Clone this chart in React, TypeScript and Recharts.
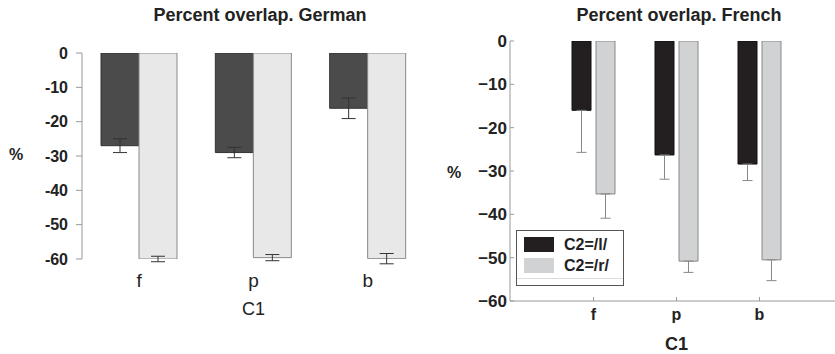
import React from "react";
import { BarChart, Bar, XAxis, YAxis, ErrorBar, Legend } from "recharts";

const categories = ["f", "p", "b"];
const yTicks = [0, -10, -20, -30, -40, -50, -60];

// German panel
const deL = [-27, -29, -16.1];
const deR = [-60, -59.6, -59.9];
const deLErr = [2, 1.5, 3];
const deRErr = [0.8, 0.9, 1.5];

// French panel (one-sided, downward error)
const frL = [-16, -26.3, -28.4];
const frR = [-35.3, -50.8, -50.5];
const frLErr = [9.7, 5.6, 3.8];
const frRErr = [5.6, 2.6, 4.8];

const FONT = "'Liberation Sans', Arial, sans-serif";

const germanData = categories.map((c, i) => ({
  c1: c,
  l: deL[i],
  r: deR[i],
  lErr: deLErr[i],
  rErr: deRErr[i],
}));

const frenchData = categories.map((c, i) => ({
  c1: c,
  l: frL[i],
  r: frR[i],
  lErr: [frLErr[i], 0],
  rErr: [frRErr[i], 0],
}));

const fmtMinus = (v: number) => (v < 0 ? "\u2212" + Math.abs(v) : String(v));

function GermanTick({ x, y, payload }: any) {
  return (
    <text x={x} y={y + 28} textAnchor="middle" fontSize={19} fill="#222" fontFamily={FONT}>
      {payload.value}
    </text>
  );
}

function FrenchXTick({ x, y, payload }: any) {
  return (
    <g>
      <line x1={x} x2={x} y1={y} y2={y - 4} stroke="#999" />
      <text x={x} y={y + 19} textAnchor="middle" fontSize={16} fontWeight="bold" fill="#222" fontFamily={FONT}>
        {payload.value}
      </text>
    </g>
  );
}

function FrenchTopTick({ x, y }: any) {
  return <line x1={x} x2={x} y1={y} y2={y + 4} stroke="#999" />;
}

function FrenchYTick({ x, y, payload }: any) {
  return (
    <g>
      <line x1={x} x2={x + 4} y1={y} y2={y} stroke="#999" />
      <text x={x - 3} y={y + 6} textAnchor="end" fontSize={17} fontWeight="bold" fill="#222" fontFamily={FONT}>
        {fmtMinus(payload.value)}
      </text>
    </g>
  );
}

function FrenchLegend({ payload }: any) {
  return (
    <div
      style={{
        width: 106,
        height: 48,
        border: "1px solid #555",
        background: "#fff",
        boxSizing: "content-box",
        paddingTop: 6,
        position: "relative",
        fontFamily: FONT,
      }}
    >
      {(payload || []).map((p: any) => (
        <div key={p.value} style={{ display: "flex", alignItems: "center", height: 15, marginBottom: 6, marginLeft: 7 }}>
          <div style={{ width: 30, height: 15, background: p.color }} />
          <span style={{ marginLeft: 10, fontSize: 16, fontWeight: "bold", color: "#222", lineHeight: "15px" }}>
            {p.value}
          </span>
        </div>
      ))}
      <div style={{ position: "absolute", left: 0, right: 0, top: 47, height: 1, background: "#ddd" }} />
    </div>
  );
}

export default function App() {
  return (
    <div
      style={{
        position: "fixed",
        left: 0,
        top: 0,
        width: 835,
        height: 354,
        overflow: "hidden",
        background: "#fff",
        fontFamily: FONT,
      }}
    >
      <div style={{ position: "absolute", left: 140, width: 240, top: 6, textAlign: "center", fontSize: 18, fontWeight: "bold", color: "#222", lineHeight: "18px" }}>
        Percent overlap. German
      </div>
      <div style={{ position: "absolute", left: 559, width: 240, top: 6, textAlign: "center", fontSize: 18, fontWeight: "bold", color: "#222", lineHeight: "18px" }}>
        Percent overlap. French
      </div>

      <div style={{ position: "absolute", left: 0, top: 0 }}>
        <BarChart width={430} height={354} data={germanData} margin={{ top: 53, right: 5, bottom: 35, left: 0 }} barSize={38} barGap={0}>
          <XAxis
            dataKey="c1"
            axisLine={false}
            tickLine={false}
            tickSize={0}
            tickMargin={0}
            height={60}
            tick={<GermanTick />}
            label={({ viewBox }: any) => (
              <text x={viewBox.x + viewBox.width / 2} y={viewBox.y + 56} textAnchor="middle" fontSize={18} fill="#222" fontFamily={FONT}>
                C1
              </text>
            )}
          />
          <YAxis
            width={82}
            domain={[-60, 0]}
            ticks={yTicks}
            allowDataOverflow
            axisLine={{ stroke: "#999" }}
            tickLine={{ stroke: "#999" }}
            tickSize={6}
            tickMargin={8}
            tick={{ fontSize: 16, fontWeight: "bold", fill: "#222", fontFamily: FONT }}
            label={({ viewBox }: any) => (
              <text x={16} y={viewBox.y + viewBox.height / 2 + 4} textAnchor="middle" fontSize={16} fontWeight="bold" fill="#222" fontFamily={FONT}>
                %
              </text>
            )}
          />
          <Bar dataKey="l" fill="#4b4b4b" stroke="#333" isAnimationActive={false}>
            <ErrorBar dataKey="lErr" width={7} stroke="#333" strokeWidth={1} direction="y" isAnimationActive={false} />
          </Bar>
          <Bar dataKey="r" fill="#e8e8e8" stroke="#888" isAnimationActive={false}>
            <ErrorBar dataKey="rErr" width={7} stroke="#333" strokeWidth={1} direction="y" isAnimationActive={false} />
          </Bar>
        </BarChart>
      </div>

      <div style={{ position: "absolute", left: 430, top: 0 }}>
        <BarChart width={420} height={354} data={frenchData} margin={{ top: 41, right: 7, bottom: 1, left: 0 }} barSize={19} barGap={5}>
          <XAxis
            xAxisId="top"
            orientation="top"
            dataKey="c1"
            height={0}
            padding={{ left: 42, right: 42 }}
            axisLine={{ stroke: "#999" }}
            tickLine={false}
            tickSize={0}
            tickMargin={0}
            tick={<FrenchTopTick />}
          />
          <XAxis
            dataKey="c1"
            height={52}
            padding={{ left: 42, right: 42 }}
            axisLine={{ stroke: "#999" }}
            tickLine={false}
            tickSize={0}
            tickMargin={0}
            tick={<FrenchXTick />}
            label={({ viewBox }: any) => (
              <text x={viewBox.x + viewBox.width / 2} y={viewBox.y + 49} textAnchor="middle" fontSize={18} fontWeight="bold" fill="#222" fontFamily={FONT}>
                C1
              </text>
            )}
          />
          <YAxis
            width={80}
            domain={[-60, 0]}
            ticks={yTicks}
            allowDataOverflow
            axisLine={{ stroke: "#999" }}
            tickLine={false}
            tickSize={0}
            tickMargin={0}
            tick={<FrenchYTick />}
            label={({ viewBox }: any) => (
              <text x={24} y={viewBox.y + viewBox.height / 2 + 7} textAnchor="middle" fontSize={16} fontWeight="bold" fill="#222" fontFamily={FONT}>
                %
              </text>
            )}
          />
          <Legend
            layout="vertical"
            align="center"
            verticalAlign="middle"
            content={<FrenchLegend />}
            wrapperStyle={{ left: 86, top: 230, width: "auto", height: "auto" }}
          />
          <Bar dataKey="l" name="C2=/l/" fill="#231f20" stroke="#111" isAnimationActive={false}>
            <ErrorBar dataKey="lErr" width={5} stroke="#888" strokeWidth={1} direction="y" isAnimationActive={false} />
          </Bar>
          <Bar dataKey="r" name="C2=/r/" fill="#d1d2d4" stroke="#888" isAnimationActive={false}>
            <ErrorBar dataKey="rErr" width={5} stroke="#888" strokeWidth={1} direction="y" isAnimationActive={false} />
          </Bar>
        </BarChart>
      </div>
    </div>
  );
}
